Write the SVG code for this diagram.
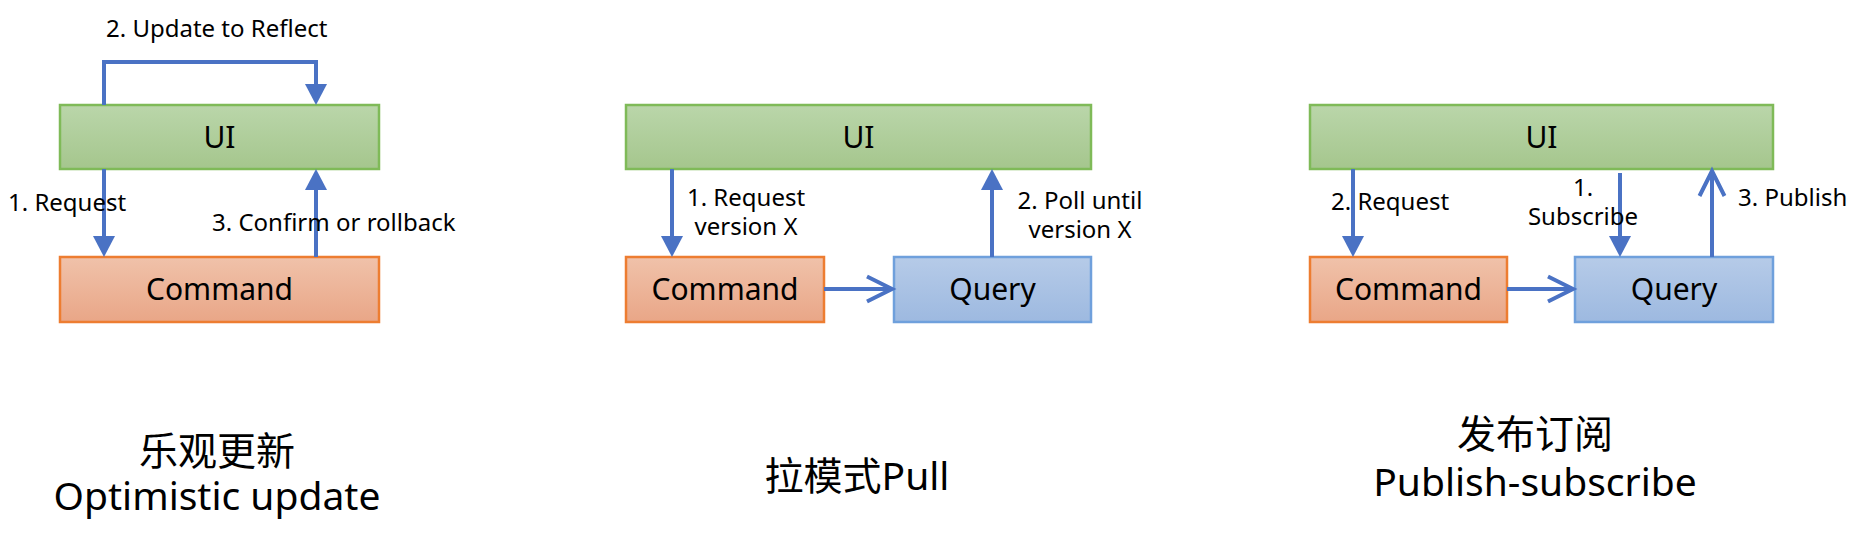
<svg xmlns="http://www.w3.org/2000/svg" width="1860" height="534" viewBox="0 0 1860 534">
<style>
text{font-family:"Noto Sans","Noto Sans CJK SC",sans-serif;fill:#000}
.node{font-size:30px;text-anchor:middle}
.lbl{font-size:24px}
.mid{text-anchor:middle}
.title{font-size:39px;text-anchor:middle}
.ui{fill:url(#gUI);stroke:#7fba58;stroke-width:2.5}
.cmd{fill:url(#gCmd);stroke:#ed7d31;stroke-width:2.5}
.qry{fill:url(#gQry);stroke:#6fa0dc;stroke-width:2.5}
.ln{fill:none;stroke:#4a72c4;stroke-width:4}
.tri{marker-end:url(#tri)}
.chv{marker-end:url(#chv)}
</style>
<defs>
<linearGradient id="gUI" x1="0" y1="0" x2="0" y2="1"><stop offset="0" stop-color="#bad6aa"/><stop offset="1" stop-color="#a5c68d"/></linearGradient>
<linearGradient id="gCmd" x1="0" y1="0" x2="0" y2="1"><stop offset="0" stop-color="#f0c2aa"/><stop offset="1" stop-color="#e9a687"/></linearGradient>
<linearGradient id="gQry" x1="0" y1="0" x2="0" y2="1"><stop offset="0" stop-color="#b6cbe8"/><stop offset="1" stop-color="#9db9e0"/></linearGradient>
<marker id="tri" viewBox="0 0 21 22" refX="0" refY="11" markerWidth="21" markerHeight="22" markerUnits="userSpaceOnUse" orient="auto"><path d="M0,0 L21,11 L0,22 z" fill="#4a72c4"/></marker>
<marker id="chv" viewBox="-3 -3 31 31" refX="25" refY="12.5" markerWidth="31" markerHeight="31" markerUnits="userSpaceOnUse" orient="auto" overflow="visible"><path d="M0,0 L25,12.5 L0,25" fill="none" stroke="#4a72c4" stroke-width="4"/></marker>
</defs>

<!-- Column 1: Optimistic update -->
<g id="ui1"><rect class="ui" x="60" y="105" width="319" height="64"/><text class="node" x="219.5" y="147.5">UI</text></g>
<g id="cmd1"><rect class="cmd" x="60" y="257" width="319" height="65"/><text class="node" x="219.5" y="300">Command</text></g>

<!-- Column 2: Pull -->
<g id="ui2"><rect class="ui" x="626" y="105" width="465" height="64"/><text class="node" x="858.5" y="147.5">UI</text></g>
<g id="cmd2"><rect class="cmd" x="626" y="257" width="198" height="65"/><text class="node" x="725" y="300">Command</text></g>
<g id="qry2"><rect class="qry" x="894" y="257" width="197" height="65"/><text class="node" x="992.5" y="300">Query</text></g>

<!-- Column 3: Publish-subscribe -->
<g id="ui3"><rect class="ui" x="1310" y="105" width="463" height="64"/><text class="node" x="1541.5" y="147.5">UI</text></g>
<g id="cmd3"><rect class="cmd" x="1310" y="257" width="197" height="65"/><text class="node" x="1408.5" y="300">Command</text></g>
<g id="qry3"><rect class="qry" x="1575" y="257" width="198" height="65"/><text class="node" x="1674" y="300">Query</text></g>

<g id="connectors">
<path class="ln tri" d="M104,105 V62 H316 V84"/>
<path class="ln tri" d="M104,169 V236"/>
<path class="ln tri" d="M316,257 V190"/>
<path class="ln tri" d="M672,169 V236"/>
<path class="ln tri" d="M992,257 V190"/>
<path class="ln chv" d="M824,289 H892"/>
<path class="ln tri" d="M1353,169 V236"/>
<path class="ln tri" d="M1620,173 V236"/>
<path class="ln chv" d="M1712,257 V171"/>
<path class="ln chv" d="M1507,289 H1573"/>
</g>

<g id="labels">
<text class="lbl" x="106" y="37">2. Update to Reflect</text>
<text class="lbl" x="8" y="211">1. Request</text>
<text class="lbl" x="212" y="231">3. Confirm or rollback</text>
<text class="lbl mid" x="746" y="206">1. Request</text>
<text class="lbl mid" x="746" y="235">version X</text>
<text class="lbl mid" x="1080" y="209">2. Poll until</text>
<text class="lbl mid" x="1080" y="238">version X</text>
<text class="lbl" x="1331" y="210">2. Request</text>
<text class="lbl mid" x="1583" y="196">1.</text>
<text class="lbl mid" x="1583" y="225">Subscribe</text>
<text class="lbl" x="1738" y="206">3. Publish</text>
</g>

<g id="titles">
<text class="title" x="217" y="465">乐观更新</text>
<text class="title" x="217" y="510">Optimistic update</text>
<text class="title" x="857" y="490">拉模式Pull</text>
<text class="title" x="1535" y="448">发布订阅</text>
<text class="title" x="1535" y="496">Publish-subscribe</text>
</g>
</svg>
